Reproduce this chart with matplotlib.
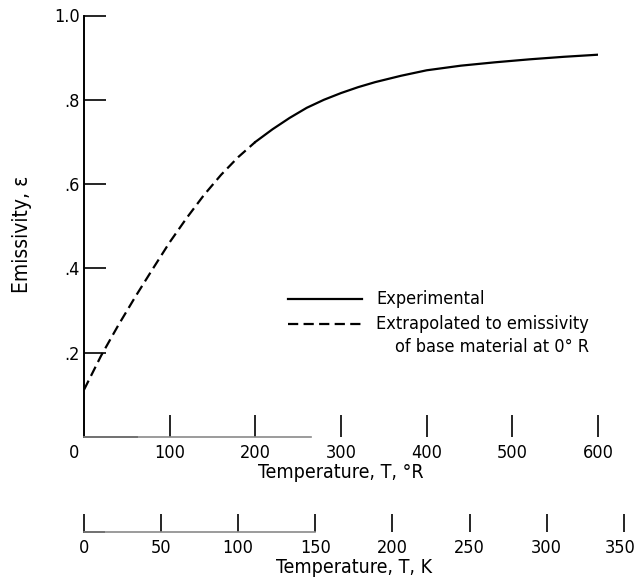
import matplotlib
matplotlib.use("Agg")
import matplotlib.pyplot as plt
from matplotlib import font_manager
from matplotlib.transforms import ScaledTranslation

# Prefer a narrow sans face when one is available
_names = {(f.name, f.stretch) for f in font_manager.fontManager.ttflist}
if any(n == 'Liberation Sans Narrow' for n, _ in _names):
    plt.rcParams['font.family'] = ['Liberation Sans Narrow', 'DejaVu Sans']
else:
    plt.rcParams['font.family'] = ['DejaVu Sans']
    plt.rcParams['font.stretch'] = 'condensed'

# Emissivity versus temperature (degrees Rankine)
temp_extrap = [0, 20, 40, 60, 80, 100, 120, 140, 160, 180, 200]
emis_extrap = [0.112, 0.193, 0.265, 0.333, 0.398, 0.462, 0.520, 0.574,
               0.622, 0.664, 0.700]
temp_exp = [200, 220, 240, 260, 280, 300, 320, 340, 370, 400, 440, 480,
            520, 560, 600]
emis_exp = [0.700, 0.730, 0.757, 0.781, 0.800, 0.816, 0.830, 0.842, 0.857,
            0.870, 0.881, 0.889, 0.896, 0.902, 0.907]

r_ticks = [0, 100, 200, 300, 400, 500, 600]
k_ticks = [0, 50, 100, 150, 200, 250, 300, 350]
y_ticks = [0.2, 0.4, 0.6, 0.8, 1.0]
y_tick_labels = ['.2', '.4', '.6', '.8', '1.0']

W, H = 637, 583
fig = plt.figure(figsize=(W / 100, H / 100), dpi=100)

x0, x1 = 84, 598          # pixel span of 0..600 R
y0, y1 = 437, 15.5        # pixel span of 0..1 emissivity
ax = fig.add_axes([x0 / W, 1 - y0 / H, (x1 - x0) / W, (y0 - y1) / H])
ax.set_xlim(0, 600)
ax.set_ylim(0, 1.0)

lw = 1.6
dash = (0, (4.6, 2.4))
ax.plot(temp_extrap, emis_extrap, color='black', lw=lw, linestyle=dash,
        dash_capstyle='butt')
ax.plot(temp_exp, emis_exp, color='black', lw=lw, solid_joinstyle='round')

for s in ('top', 'right'):
    ax.spines[s].set_visible(False)
ax.spines['left'].set_linewidth(1.4)
ax.spines['left'].set_bounds(0, 1.0)
ax.spines['bottom'].set_bounds(0, 265)
ax.spines['bottom'].set_color('#8a8a8a')
ax.spines['bottom'].set_linewidth(1.2)
ax.plot([0, 62], [0, 0], color='black', lw=1.4, clip_on=False)

ax.set_xticks(r_ticks)
ax.set_xticklabels([str(t) for t in r_ticks])
ax.set_yticks(y_ticks)
ax.set_yticklabels(y_tick_labels)
ax.tick_params(axis='both', direction='in', length=16, width=1.2,
               labelsize=13, color='black')
ax.tick_params(axis='x', pad=5)
ax.tick_params(axis='y', pad=3)
ax.xaxis.get_major_ticks()[0].tick1line.set_visible(False)
zero_lbl = ax.get_xticklabels()[0]
zero_lbl.set_transform(zero_lbl.get_transform()
                       + ScaledTranslation(-10 / 100, 0, fig.dpi_scale_trans))

ax.set_xlabel('Temperature, T, °R', fontsize=14, labelpad=1)
ax.set_ylabel('Emissivity, ε', fontsize=15)
ax.yaxis.set_label_coords(-0.101, 0.48)

# Legend drawn in axes coordinates
ax.plot([0.397, 0.541], [0.327, 0.327], color='black', lw=lw,
        transform=ax.transAxes)
ax.plot([0.397, 0.541], [0.268, 0.268], color='black', lw=lw, linestyle=dash,
        transform=ax.transAxes)
ax.text(0.568, 0.327, 'Experimental', fontsize=13, va='center', ha='left',
        transform=ax.transAxes)
ax.text(0.568, 0.268, 'Extrapolated to emissivity', fontsize=13, va='center',
        ha='left', transform=ax.transAxes)
ax.text(0.605, 0.213, 'of base material at 0° R', fontsize=13, va='center',
        ha='left', transform=ax.transAxes)

# Secondary Kelvin scale
px_per_r = (x1 - x0) / 600
k_right = x0 + 350 * 1.8 * px_per_r
yk = 532
axk = fig.add_axes([x0 / W, 1 - yk / H, (k_right - x0) / W, 0.001])
axk.set_xlim(0, 350)
axk.set_ylim(0, 1)
axk.patch.set_visible(False)
for s in ('top', 'right', 'left'):
    axk.spines[s].set_visible(False)
axk.spines['bottom'].set_bounds(0, 150)
axk.spines['bottom'].set_color('#8a8a8a')
axk.spines['bottom'].set_linewidth(1.2)
axk.plot([0, 13], [0, 0], color='black', lw=1.4, clip_on=False)
axk.set_yticks([])
axk.set_xticks(k_ticks)
axk.set_xticklabels([str(t) for t in k_ticks])
axk.tick_params(axis='x', direction='in', length=13, width=1.2,
                labelsize=13, pad=5, color='black')
last_k = axk.get_xticklabels()[-1]
last_k.set_transform(last_k.get_transform()
                     + ScaledTranslation(-3 / 100, 0, fig.dpi_scale_trans))
axk.set_xlabel('Temperature, T, K', fontsize=14, labelpad=1)

fig.savefig('out.png', dpi=100)
